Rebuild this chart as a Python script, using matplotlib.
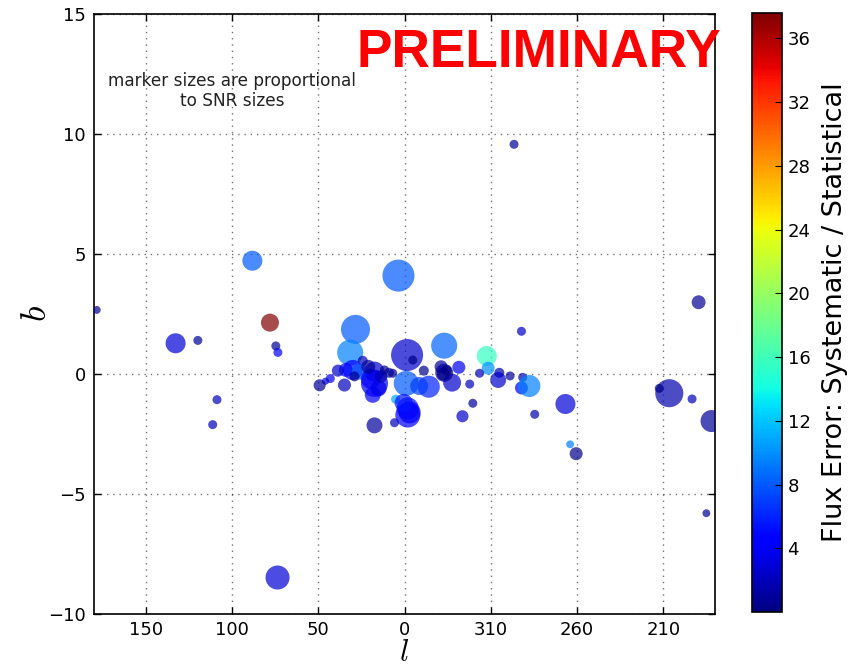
import numpy as np
import matplotlib
matplotlib.use("Agg")
import matplotlib.pyplot as plt
from matplotlib.ticker import FixedLocator, FuncFormatter

plt.rcParams["font.family"] = ["DejaVu Sans"]
plt.rcParams["mathtext.fontset"] = "cm"

# Galactic longitude (deg, 0-360), latitude (deg), SNR size, flux error ratio
glon = [178.4, 132.7, 119.8, 108.7, 111.2, 88.2, 78.0, 74.6, 73.4, 73.6,
        296.5, 292.2, 189.5, 182.0, 206.5, 212.3, 193.3, 266.7, 264.0, 260.5,
        185.0, 284.5, 3.5,
        28.4, 31.5, 358.5, 355.2, 337.0, 312.3, 311.5, 305.0, 305.7, 298.8,
        291.5, 292.2, 287.6, 316.5, 320.4, 326.4, 322.2, 328.5, 332.4, 337.0,
        338.8, 348.8, 345.9, 359.0, 358.1, 358.1, 5.2, 5.8, 17.4, 17.4,
        18.4, 17.4, 24.2, 30.0, 34.0, 26.0, 38.6, 34.8, 43.0, 45.8,
        49.2, 11.6, 6.8, 29.0, 351.5,
        19.5, 15.0, 21.0, 357.0, 0.5, 337.5, 335.5, 13.5, 9.0]
glat = [2.67, 1.28, 1.40, -1.07, -2.11, 4.72, 2.14, 1.17, 0.90, -8.48,
        9.57, 1.78, 2.99, -1.96, -0.80, -0.60, -1.04, -1.25, -2.93, -3.32,
        -5.80, -1.68, 4.10,
        1.86, 0.89, 0.79, 0.58, 1.18, 0.75, 0.24, 0.05, -0.25, -0.08,
        -0.14, -0.58, -0.50, 0.03, -1.22, -1.76, -0.42, 0.28, -0.36, 0.05,
        0.30, 0.14, -0.53, -0.39, -1.43, -1.71, -1.05, -2.03, -2.14, -0.39,
        -0.87, 0.10, 0.55, 0.17, 0.17, 0.10, 0.14, -0.46, -0.19, -0.30,
        -0.47, 0.17, 0.03, -0.10, -0.50,
        -0.20, -0.60, 0.30, -1.60, -1.20, 0.00, 0.15, -0.10, 0.05]
snr_size = [8, 52, 10.5, 10.5, 10.5, 52, 42, 10.5, 10.5, 75,
            10.5, 10.5, 25, 63, 102, 10.5, 10.5, 52, 8, 22,
            8, 10.5, 133,
            109, 88, 133, 10.5, 88, 52, 22, 13, 33, 10.5,
            10.5, 22, 63, 10.5, 10.5, 19, 10.5, 22, 42, 42,
            22, 13, 63, 81, 63, 81, 10.5, 10.5, 33, 95,
            33, 52, 13, 52, 25, 33, 19, 22, 10.5, 6.5,
            19, 10.5, 10.5, 13, 42,
            52, 33, 25, 63, 42, 22, 13, 19, 13]
flux_err = [0.5, 2.8, 1.0, 2.0, 2.0, 8.0, 37.6, 0.8, 4.0, 2.8,
            0.8, 2.5, 0.6, 1.0, 1.5, 0.3, 2.0, 2.8, 9.5, 0.3,
            0.8, 1.5, 8.0,
            8.0, 9.5, 2.5, 0.5, 8.5, 15.5, 10.0, 1.5, 2.5, 1.0,
            1.5, 4.5, 9.5, 2.0, 1.0, 2.5, 2.0, 4.0, 2.5, 0.5,
            1.0, 0.3, 6.0, 8.0, 5.0, 4.5, 11.0, 2.0, 1.0, 3.8,
            4.0, 2.5, 2.0, 4.5, 5.0, 8.0, 2.5, 2.0, 3.5, 3.0,
            1.0, 0.5, 1.0, 0.5, 7.0,
            4.0, 3.5, 1.0, 4.0, 5.5, 0.5, 0.3, 1.5, 1.0]

xtick_pos = [150, 100, 50, 0, -50, -100, -150]
cbar_ticks = [4, 8, 12, 16, 20, 24, 28, 32, 36]

glon = np.array(glon)
x = np.where(glon > 180, glon - 360, glon)

fig = plt.figure(figsize=(8.5, 6.71), dpi=100)
ax = fig.add_axes([94 / 850, 57 / 671, 621 / 850, 600 / 671])

sc = ax.scatter(x, glat, s=np.array(snr_size) * 4, c=flux_err, cmap="jet",
                vmin=0.0, vmax=37.6, alpha=0.7, edgecolors="none", zorder=3)

ax.set_xlim(180, -180)
ax.set_ylim(-10, 15)
ax.xaxis.set_major_locator(FixedLocator(xtick_pos))
ax.xaxis.set_major_formatter(FuncFormatter(lambda v, p: f"{int(v % 360)}"))
ax.set_yticks([-10, -5, 0, 5, 10, 15])
ax.grid(True, color="black", linestyle=(0, (1, 3.5)), linewidth=1.0, alpha=0.55)
ax.set_axisbelow(True)
ax.tick_params(direction="in", top=True, right=True, length=5, width=1,
               labelsize=13, pad=6)
ax.tick_params(axis="x", pad=5)
for sp in ax.spines.values():
    sp.set_linewidth(1.2)

ax.set_xlabel("$l$", fontsize=22, labelpad=-1)
ax.set_ylabel("$b$", fontsize=26, labelpad=-4)

ax.text(0.222, 0.872, "marker sizes are proportional\nto SNR sizes",
        transform=ax.transAxes, ha="center", va="center", fontsize=12.2,
        color="#222222", linespacing=1.15)

fig.text(356 / 850, 1 - 67 / 671, "PRELIMINARY", color="red",
         fontsize=38.3, fontweight="bold", family="Liberation Sans",
         ha="left", va="baseline")

cax = fig.add_axes([752 / 850, 59 / 671, 30 / 850, 599 / 671])
cb = fig.colorbar(sc, cax=cax, ticks=cbar_ticks)
cb.solids.set_alpha(1)
cb.ax.tick_params(direction="in", length=5, labelsize=13, pad=4)
cb.set_label("Flux Error: Systematic / Statistical", fontsize=19.5, labelpad=8)
cb.outline.set_linewidth(1.2)

fig.savefig("out.png", dpi=100)
